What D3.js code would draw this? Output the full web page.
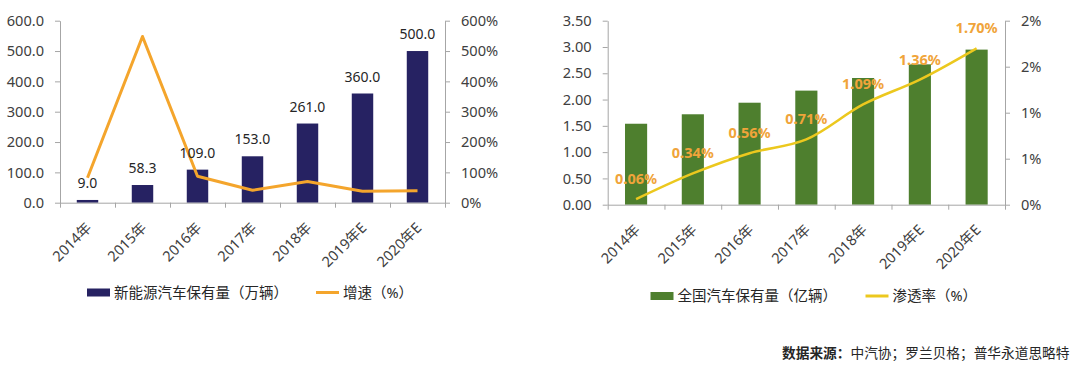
<!DOCTYPE html>
<html>
<head>
<meta charset="utf-8">
<script src="https://cdn.jsdelivr.net/npm/d3@7"></script>
<style>
  body { margin: 0; background: #fff; }
  svg text { font-family: "Noto Sans", "Noto Sans CJK SC", sans-serif; }
</style>
</head>
<body>
<div id="chart"></div>
<script>
// categories shared by both charts
var years = ["2014年", "2015年", "2016年", "2017年", "2018年", "2019年E", "2020年E"];

// left chart: NEV stock (10k units) + growth (%)
var nevStock = [9.0, 58.3, 109.0, 153.0, 261.0, 360.0, 500.0];
var nevGrowth = [82, 548, 87, 41, 70, 38, 39];
var nevTicks = [0, 100, 200, 300, 400, 500, 600];
var nevGrowthTicks = [0, 100, 200, 300, 400, 500, 600];
var nevGrowthTickLabels = ["0%", "100%", "200%", "300%", "400%", "500%", "600%"];

// right chart: national car stock (100m units) + penetration (%)
var carStock = [1.54, 1.72, 1.94, 2.17, 2.41, 2.67, 2.95];
var penetration = [0.06, 0.34, 0.56, 0.71, 1.09, 1.36, 1.70];
var carTicks = [0, 0.5, 1.0, 1.5, 2.0, 2.5, 3.0, 3.5];
var penTicks = [0, 0.5, 1.0, 1.5, 2.0];
var penTickLabels = ["0%", "1%", "1%", "2%", "2%"];

var legendNames = {
    nev: ["新能源汽车保有量（万辆）", "增速（%）"],
    car: ["全国汽车保有量（亿辆）", "渗透率（%）"]
};
var sourceLabel = "数据来源：";
var sourceText = "中汽协；罗兰贝格；普华永道思略特";

var svg = d3.select("#chart").append("svg")
    .attr("width", 1080)
    .attr("height", 370);

svg.append("rect").attr("width", 1080).attr("height", 370).attr("fill", "#fff");

let drawPanel = (cfg) => {
    let g = svg.append("g");

    let x = d3.scaleBand()
        .domain(years)
        .range([cfg.left, cfg.right])
        .paddingInner(0.61)
        .paddingOuter(0.305);

    let bounds = d3.scaleLinear().domain([0, years.length]).range([cfg.left, cfg.right]);

    let y = d3.scaleLinear().domain(cfg.yDomain).range([cfg.bottom, cfg.top]);
    let y2 = d3.scaleLinear().domain(cfg.y2Domain).range([cfg.bottom, cfg.top]);

    // bars
    g.selectAll("rect.bar")
        .data(cfg.bars)
        .enter().append("rect")
            .attr("class", "bar")
            .attr("x", (d, i) => x(years[i]))
            .attr("width", x.bandwidth())
            .attr("y", (d) => y(d))
            .attr("height", (d) => cfg.bottom - y(d))
            .attr("fill", cfg.barColor);

    // left axis
    let yAxis = d3.axisLeft(y)
        .tickValues(cfg.yTicks)
        .tickFormat(d3.format(cfg.yFormat))
        .tickSizeInner(5)
        .tickSizeOuter(0)
        .tickPadding(11);

    let ya = g.append("g")
        .attr("transform", "translate(" + cfg.left + ",0)")
        .call(yAxis);

    // right axis
    let y2Axis = d3.axisRight(y2)
        .tickValues(cfg.y2Ticks)
        .tickFormat((d, i) => cfg.y2Labels[i])
        .tickSizeInner(5)
        .tickSizeOuter(0)
        .tickPadding(11);

    let y2a = g.append("g")
        .attr("transform", "translate(" + cfg.right + ",0)")
        .call(y2Axis);

    // bottom axis, ticks sit on category boundaries
    let xAxis = d3.axisBottom(bounds)
        .tickValues(d3.range(years.length + 1))
        .tickFormat("")
        .tickSizeInner(5)
        .tickSizeOuter(0);

    let xa = g.append("g")
        .attr("transform", "translate(0," + cfg.bottom + ")")
        .call(xAxis);

    [ya, y2a, xa].forEach((a) => {
        a.selectAll("path.domain").attr("stroke", "#a6a6a6");
        a.selectAll(".tick line").attr("stroke", "#a6a6a6");
        a.selectAll(".tick text")
            .attr("fill", "#404040")
            .style("font-size", "14.6px");
    });

    // rotated category labels
    g.selectAll("text.cat")
        .data(years)
        .enter().append("text")
            .attr("class", "cat")
            .attr("text-anchor", "end")
            .attr("transform", (d) => "translate(" + (x(d) + x.bandwidth() / 2 + 5) + "," + (cfg.bottom + 26) + ") rotate(-45)")
            .attr("fill", "#404040")
            .style("font-size", "14.5px")
            .text((d) => d);

    // line
    let line = d3.line()
        .x((d, i) => x(years[i]) + x.bandwidth() / 2)
        .y((d) => y2(d))
        .curve(cfg.curve);

    g.append("path")
        .datum(cfg.line)
        .attr("d", line)
        .attr("fill", "none")
        .attr("stroke", cfg.lineColor)
        .attr("stroke-width", cfg.lineWidth)
        .attr("stroke-linejoin", "round");

    // data labels
    if (cfg.barLabels) {
        g.selectAll("text.blabel")
            .data(cfg.bars)
            .enter().append("text")
                .attr("class", "blabel")
                .attr("text-anchor", "middle")
                .attr("x", (d, i) => x(years[i]) + x.bandwidth() / 2)
                .attr("y", (d) => y(d) - 12)
                .attr("fill", "#262626")
                .style("font-size", "14px")
                .text((d) => d3.format(".1f")(d));
    }
    if (cfg.lineLabels) {
        g.selectAll("text.llabel")
            .data(cfg.line)
            .enter().append("text")
                .attr("class", "llabel")
                .attr("text-anchor", "middle")
                .attr("x", (d, i) => x(years[i]) + x.bandwidth() / 2)
                .attr("y", (d) => y2(d) - 15)
                .attr("fill", "#f0a43a")
                .style("font-size", "14.5px")
                .style("font-weight", "bold")
                .text((d) => d3.format(".2f")(d) + "%");
    }

    // legend
    let lg = g.append("g").attr("transform", "translate(" + cfg.legendX + "," + cfg.legendY + ")");
    lg.append("rect")
        .attr("x", 0).attr("y", -4)
        .attr("width", 23).attr("height", 8)
        .attr("fill", cfg.barColor);
    lg.append("text")
        .attr("x", 27).attr("y", 0).attr("dy", "0.35em")
        .attr("fill", "#262626")
        .style("font-size", "14.5px")
        .text(cfg.names[0]);
    lg.append("line")
        .attr("x1", cfg.legend2X).attr("x2", cfg.legend2X + 23)
        .attr("y1", 0).attr("y2", 0)
        .attr("stroke", cfg.lineColor)
        .attr("stroke-width", 3);
    lg.append("text")
        .attr("x", cfg.legend2X + 27).attr("y", 0).attr("dy", "0.35em")
        .attr("fill", "#262626")
        .style("font-size", "14.5px")
        .text(cfg.names[1]);
};

drawPanel({
    left: 60, right: 445, top: 20.7, bottom: 202.7,
    bars: nevStock, line: nevGrowth,
    yDomain: [0, 600], y2Domain: [0, 600],
    yTicks: nevTicks, yFormat: ".1f",
    y2Ticks: nevGrowthTicks, y2Labels: nevGrowthTickLabels,
    barColor: "#262262", lineColor: "#f4a52c", lineWidth: 3,
    curve: d3.curveLinear,
    barLabels: true, lineLabels: false,
    names: legendNames.nev,
    legendX: 87, legendY: 292.5, legend2X: 229
});

drawPanel({
    left: 607.7, right: 1005, top: 20.7, bottom: 204.7,
    bars: carStock, line: penetration,
    yDomain: [0, 3.5], y2Domain: [0, 2],
    yTicks: carTicks, yFormat: ".2f",
    y2Ticks: penTicks, y2Labels: penTickLabels,
    barColor: "#4e7f2e", lineColor: "#ecc81e", lineWidth: 2.5,
    curve: d3.curveCatmullRom,
    barLabels: false, lineLabels: true,
    names: legendNames.car,
    legendX: 650.5, legendY: 296, legend2X: 215
});

// source note
let src = svg.append("text")
    .attr("x", 782)
    .attr("y", 353)
    .attr("dy", "0.35em")
    .attr("fill", "#262626")
    .style("font-size", "13.7px");
src.append("tspan").style("font-weight", "bold").text(sourceLabel);
src.append("tspan").text(sourceText);
</script>
</body>
</html>
